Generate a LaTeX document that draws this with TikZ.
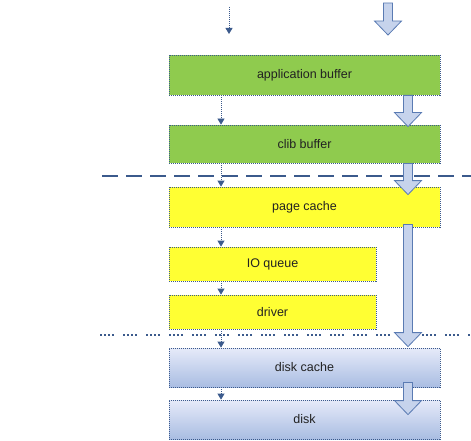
\documentclass[tikz,border=0pt]{standalone}
\usepackage{fontspec}
\setmainfont{Liberation Sans}
\usetikzlibrary{arrows.meta,calc}
\definecolor{edgeblue}{HTML}{3B5A8C}
\definecolor{greenfill}{HTML}{8FCB4E}
\definecolor{yellowfill}{HTML}{FFFF33}
\definecolor{disktop}{HTML}{E6EAF9}
\definecolor{diskbot}{HTML}{A9BDE2}
\definecolor{arrfill}{HTML}{C6D3EC}
\definecolor{arredge}{HTML}{5A7BB3}
\definecolor{textgray}{HTML}{222222}
\tikzset{
  box/.style={draw=edgeblue, line width=0.8pt, dash pattern=on 1pt off 1pt,
    inner sep=0pt, text=textgray, font=\fontsize{12.5}{14}\selectfont},
  greenbox/.style={box, fill=greenfill},
  yellowbox/.style={box, fill=yellowfill},
  diskbox/.style={box, top color=disktop, bottom color=diskbot},
  smallarr/.style={draw=edgeblue, line width=0.8pt, dash pattern=on 1pt off 1pt,
    -{Triangle[width=7pt,length=6pt,fill=edgeblue]}},
  bigarr/.style={fill=arrfill, draw=arredge, line width=0.8pt},
  sepdash/.style={draw=edgeblue, line width=1.5pt, dash pattern=on 16pt off 8pt},
  sepdot/.style={draw=edgeblue, line width=1.8pt,
    dash pattern=on 2pt off 2pt on 2pt off 2pt on 2pt off 2pt on 2pt off 9pt}
}
\newcommand{\blockarr}[2]{%
  \path[bigarr] let \p1=(#1), \p2=(#2) in
    (\x1-4.5pt,\y1) -- (\x1-4.5pt,\y2+14pt) -- (\x1-13.5pt,\y2+14pt) -- (\x1,\y2)
    -- (\x1+13.5pt,\y2+14pt) -- (\x1+4.5pt,\y2+14pt) -- (\x1+4.5pt,\y1) -- cycle;}
\begin{document}
\begin{tikzpicture}[x=1pt,y=-1pt]
\useasboundingbox (0,0) rectangle (471,441);
% boxes
\node[greenbox, minimum width=271pt, minimum height=40pt] (app) at (304.5,75) {application buffer};
\node[greenbox, minimum width=271pt, minimum height=38pt] (clib) at (304.5,144) {clib buffer};
\node[yellowbox, minimum width=271pt, minimum height=40pt] (page) at (304.5,207) {page cache};
\node[yellowbox, minimum width=207pt, minimum height=34pt] (ioq) at (272.5,264) {IO queue};
\node[yellowbox, minimum width=207pt, minimum height=34pt] (drv) at (272.5,312) {driver};
\node[diskbox, minimum width=271pt, minimum height=39pt] (dcache) at (304.5,367.5) {disk cache};
\node[diskbox, minimum width=271pt, minimum height=39pt] (disk) at (304.5,419.5) {disk};
% separator lines
\coordinate (sepL1) at (102,176);
\coordinate (sepR1) at (471,176);
\coordinate (sepL2) at (100,335);
\coordinate (sepR2) at (471,335);
\path[sepdash] (sepL1) -- (sepR1);
\path[sepdot] (sepL2) -- (sepR2);
% small dotted arrows
\coordinate (sx) at (221,0);
\coordinate (s0a) at (229,7);
\coordinate (s0b) at (229,34);
\path[smallarr] (s0a) -- (s0b);
\path[smallarr] (app.south -| sx) -- (clib.north -| sx);
\path[smallarr] (clib.south -| sx) -- (page.north -| sx);
\path[smallarr] (page.south -| sx) -- (ioq.north -| sx);
\path[smallarr] (ioq.south -| sx) -- (drv.north -| sx);
\path[smallarr] (drv.south -| sx) -- (dcache.north -| sx);
\path[smallarr] (dcache.south -| sx) -- (disk.north -| sx);
% big block arrows
\coordinate (bx) at (408,0);
\coordinate (b0a) at (388,3);
\coordinate (b0b) at (388,35);
\coordinate (b1a) at (app.south -| bx);
\coordinate (b1b) at ($(clib.north -| bx)+(0,2)$);
\coordinate (b2a) at (clib.south -| bx);
\coordinate (b2b) at ($(page.north -| bx)+(0,8)$);
\coordinate (b3a) at ($(page.south -| bx)+(0,-3)$);
\coordinate (b3b) at ($(dcache.north -| bx)+(0,-1)$);
\coordinate (b4a) at ($(dcache.south -| bx)+(0,-5)$);
\coordinate (b4b) at ($(disk.north -| bx)+(0,15)$);
\blockarr{b0a}{b0b}
\blockarr{b1a}{b1b}
\blockarr{b2a}{b2b}
\blockarr{b3a}{b3b}
\blockarr{b4a}{b4b}
\end{tikzpicture}
\end{document}
